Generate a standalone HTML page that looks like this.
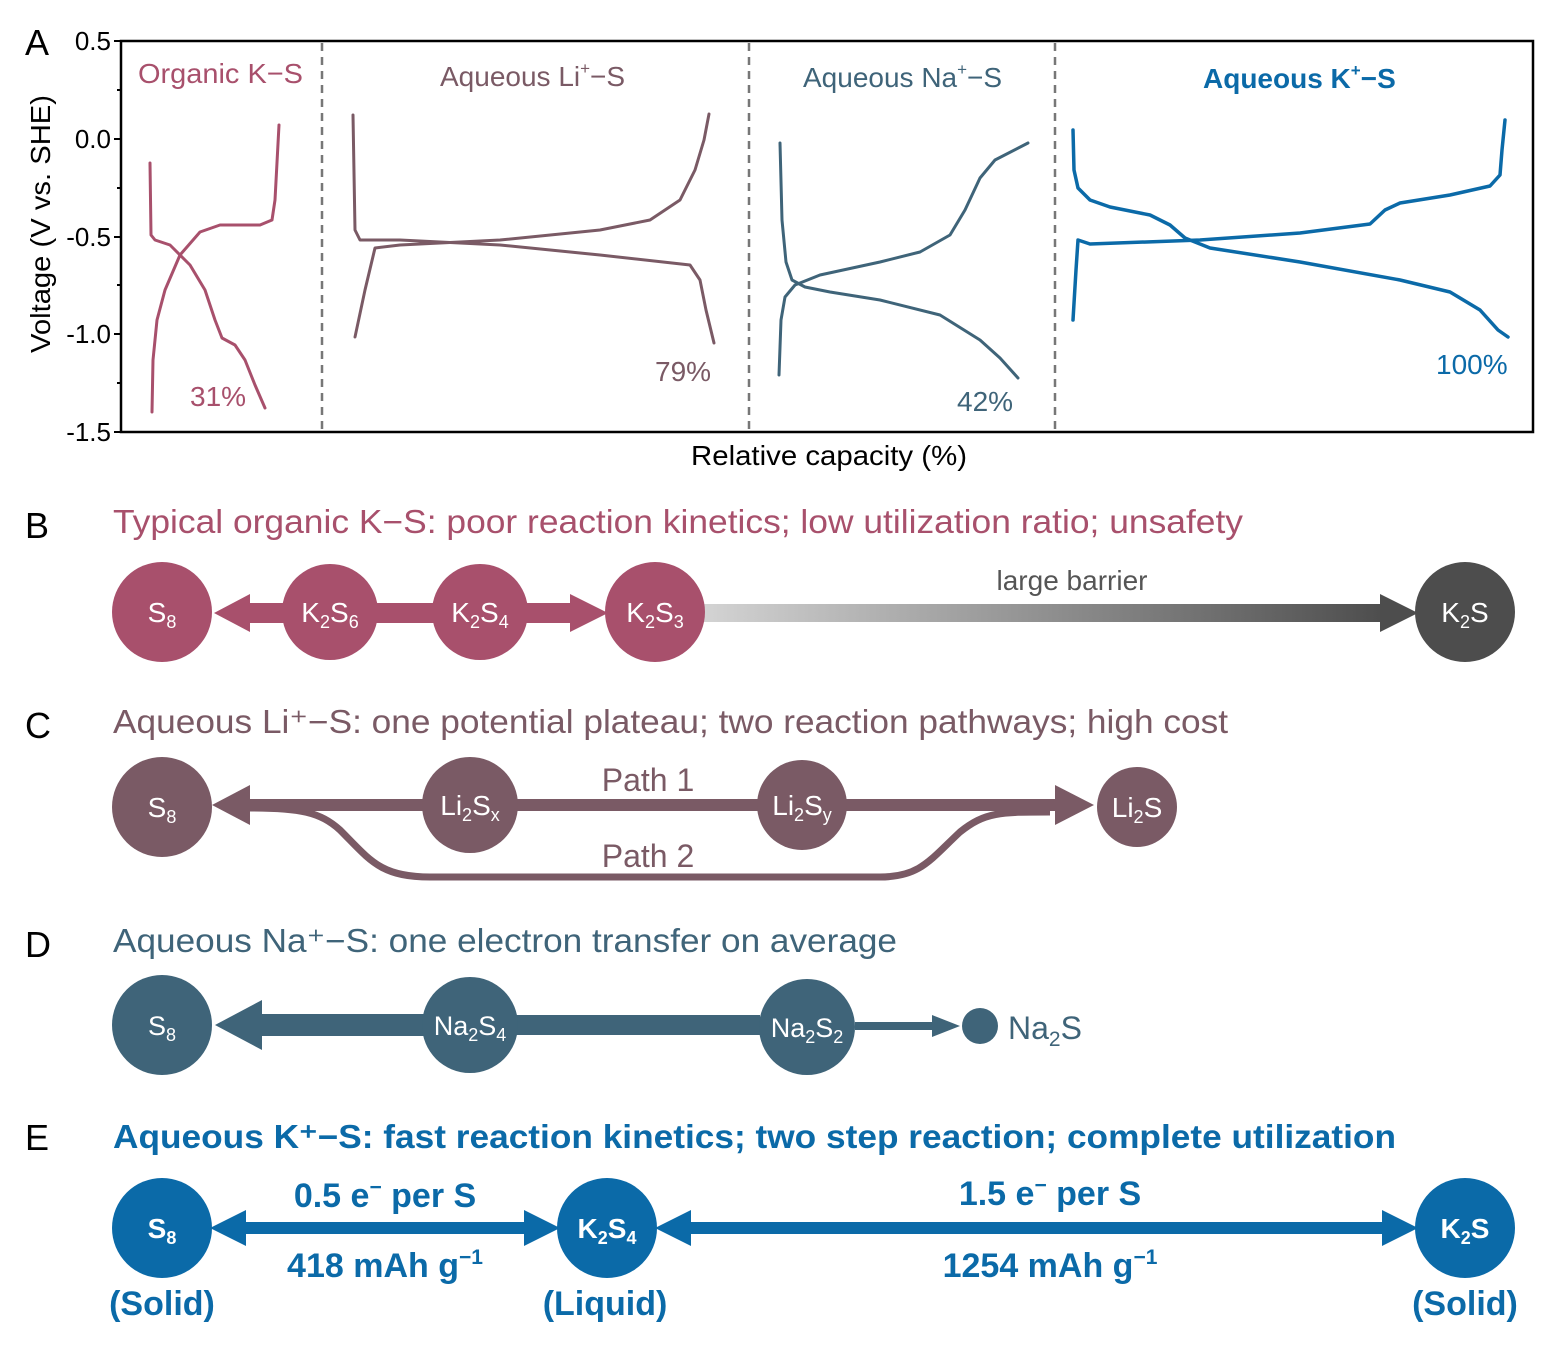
<!DOCTYPE html>
<html><head><meta charset="utf-8"><style>
html,body{margin:0;padding:0;background:#fff}
svg{display:block;font-family:"Liberation Sans",sans-serif}
</style></head><body>
<svg width="1541" height="1345" viewBox="0 0 1541 1345" xmlns="http://www.w3.org/2000/svg">
<defs>
<linearGradient id="gb" x1="0" x2="1" y1="0" y2="0"><stop offset="0" stop-color="#d4d4d4"/><stop offset="1" stop-color="#4d4d4d"/></linearGradient>
</defs>
<!-- Panel A -->
<text x="25" y="55" font-size="36">A</text>
<rect x="121" y="41" width="1412" height="391" fill="none" stroke="#000" stroke-width="2.5"/>
<g stroke="#000" stroke-width="2">
<line x1="114" y1="41" x2="121" y2="41"/><line x1="114" y1="139" x2="121" y2="139"/><line x1="114" y1="237" x2="121" y2="237"/><line x1="114" y1="334" x2="121" y2="334"/><line x1="114" y1="432" x2="121" y2="432"/>
<line x1="117" y1="90" x2="121" y2="90"/><line x1="117" y1="188" x2="121" y2="188"/><line x1="117" y1="285" x2="121" y2="285"/><line x1="117" y1="383" x2="121" y2="383"/>
</g>
<g font-size="26" text-anchor="end">
<text x="111" y="50">0.5</text><text x="111" y="148">0.0</text><text x="111" y="246">-0.5</text><text x="111" y="343">-1.0</text><text x="111" y="441">-1.5</text>
</g>
<text transform="translate(50,224) rotate(-90)" font-size="28" text-anchor="middle" textLength="258" lengthAdjust="spacingAndGlyphs">Voltage (V vs. SHE)</text>
<text x="829" y="465" font-size="28" text-anchor="middle" textLength="276" lengthAdjust="spacingAndGlyphs">Relative capacity (%)</text>
<g stroke="#777" stroke-width="2.5" stroke-dasharray="8,6">
<line x1="322" y1="43" x2="322" y2="430"/><line x1="749" y1="43" x2="749" y2="430"/><line x1="1055" y1="43" x2="1055" y2="430"/>
</g>
<g font-size="28">
<text x="138" y="83" fill="#a8506c" textLength="165" lengthAdjust="spacingAndGlyphs">Organic K−S</text>
<text x="440" y="86" fill="#7a5a65">Aqueous Li<tspan font-size="17" dy="-12">+</tspan><tspan dy="12">−S</tspan></text>
<text x="803" y="87" fill="#3f6479">Aqueous Na<tspan font-size="17" dy="-12">+</tspan><tspan dy="12">−S</tspan></text>
<text x="1203" y="88" fill="#0b6aa8" font-weight="bold">Aqueous K<tspan font-size="17" dy="-12">+</tspan><tspan dy="12">−S</tspan></text>
<text x="190" y="406" fill="#a8506c">31%</text>
<text x="655" y="381" fill="#7a5a65">79%</text>
<text x="957" y="411" fill="#3f6479">42%</text>
<text x="1436" y="374" fill="#0b6aa8">100%</text>
</g>
<g fill="none" stroke-width="3" stroke-linejoin="round" stroke-linecap="round">
<polyline stroke="#a8506c" points="152,412 153,360 157,320 165,290 180,255 200,232 220,225 260,225 272,220 275,200 279,125"/>
<polyline stroke="#a8506c" points="150,163 151,235 155,240 170,245 190,265 205,290 215,320 222,338 235,345 245,360 255,385 265,408"/>
<polyline stroke="#7a5a65" points="353,115 355,230 360,240 400,240 500,245 600,255 690,265 700,280 706,310 714,343"/>
<polyline stroke="#7a5a65" points="355,337 365,290 375,248 400,245 500,240 600,230 650,220 680,200 695,170 704,140 709,114"/>
<polyline stroke="#3f6479" points="780,143 782,220 786,262 792,280 805,287 830,292 880,300 940,315 980,340 1000,358 1018,378"/>
<polyline stroke="#3f6479" points="779,375 781,320 785,297 795,285 820,275 880,262 920,252 950,235 965,210 980,178 995,160 1028,143"/>
<polyline stroke="#0b6aa8" stroke-width="3.5" points="1073,130 1074,170 1078,188 1090,200 1110,207 1150,215 1170,225 1185,238 1210,248 1300,262 1400,280 1450,292 1480,310 1498,330 1508,337"/>
<polyline stroke="#0b6aa8" stroke-width="3.5" points="1073,320 1076,270 1078,240 1090,244 1200,240 1300,233 1370,224 1385,210 1400,203 1450,195 1490,186 1500,175 1502,150 1505,120"/>
</g>
<!-- Panel B -->
<text x="25" y="538" font-size="36">B</text>
<text x="113" y="533" font-size="33" fill="#a8506c" textLength="1130" lengthAdjust="spacingAndGlyphs">Typical organic K−S: poor reaction kinetics; low utilization ratio; unsafety</text>
<g fill="#a8506c">
<rect x="240" y="603" width="50" height="20"/><polygon points="214,613 250,594 250,632"/>
<rect x="370" y="603" width="70" height="20"/>
<rect x="520" y="603" width="50" height="20"/><polygon points="608,613 570,594 570,632"/>
</g>
<rect x="700" y="604" width="685" height="18" fill="url(#gb)"/><polygon points="1418,613 1380,594 1380,632" fill="#4d4d4d"/>
<text x="1072" y="590" font-size="28" fill="#555" text-anchor="middle">large barrier</text>
<g fill="#a8506c"><circle cx="162" cy="612" r="50"/><circle cx="330" cy="612" r="48"/><circle cx="480" cy="612" r="48"/><circle cx="655" cy="612" r="50"/></g>
<circle cx="1465" cy="612" r="50" fill="#4d4d4d"/>
<g fill="#fff" font-size="28" text-anchor="middle">
<text x="162" y="622">S<tspan font-size="18" dy="6">8</tspan></text>
<text x="330" y="622">K<tspan font-size="18" dy="6">2</tspan><tspan dy="-6">S</tspan><tspan font-size="18" dy="6">6</tspan></text>
<text x="480" y="622">K<tspan font-size="18" dy="6">2</tspan><tspan dy="-6">S</tspan><tspan font-size="18" dy="6">4</tspan></text>
<text x="655" y="622">K<tspan font-size="18" dy="6">2</tspan><tspan dy="-6">S</tspan><tspan font-size="18" dy="6">3</tspan></text>
<text x="1465" y="622">K<tspan font-size="18" dy="6">2</tspan><tspan dy="-6">S</tspan></text>
</g>
<!-- Panel C -->
<text x="25" y="738" font-size="36">C</text>
<text x="113" y="733" font-size="33" fill="#7a5a65" textLength="1115" lengthAdjust="spacingAndGlyphs">Aqueous Li⁺−S: one potential plateau; two reaction pathways; high cost</text>
<path d="M250,808 C300,808 320,812 340,830 C370,860 380,877 430,877 L880,877 C920,877 930,860 960,832 C985,812 1000,812 1050,812" fill="none" stroke="#7a5a65" stroke-width="7"/>
<g fill="#7a5a65">
<rect x="245" y="799" width="815" height="12"/>
<polygon points="212,805 250,785 250,825"/><polygon points="1094,805 1055,785 1055,825"/>
<circle cx="162" cy="807" r="50"/><circle cx="470" cy="805" r="48"/><circle cx="802" cy="805" r="45"/><circle cx="1137" cy="807" r="40"/>
</g>
<text x="648" y="791" font-size="32" fill="#7a5a65" text-anchor="middle">Path 1</text>
<text x="648" y="867" font-size="32" fill="#7a5a65" text-anchor="middle">Path 2</text>
<g fill="#fff" font-size="28" text-anchor="middle">
<text x="162" y="817">S<tspan font-size="18" dy="6">8</tspan></text>
<text x="470" y="815">Li<tspan font-size="18" dy="6">2</tspan><tspan dy="-6">S</tspan><tspan font-size="18" dy="6">x</tspan></text>
<text x="802" y="815">Li<tspan font-size="18" dy="6">2</tspan><tspan dy="-6">S</tspan><tspan font-size="18" dy="6">y</tspan></text>
<text x="1137" y="817">Li<tspan font-size="18" dy="6">2</tspan><tspan dy="-6">S</tspan></text>
</g>
<!-- Panel D -->
<text x="25" y="957" font-size="36">D</text>
<text x="113" y="952" font-size="33" fill="#3f6479" textLength="784" lengthAdjust="spacingAndGlyphs">Aqueous Na⁺−S: one electron transfer on average</text>
<g fill="#3f6479">
<rect x="255" y="1014" width="170" height="22"/><polygon points="215,1025 262,1000 262,1050"/>
<rect x="515" y="1015" width="245" height="20"/>
<rect x="855" y="1022" width="80" height="8"/><polygon points="960,1026 932,1015 932,1037"/>
<circle cx="162" cy="1025" r="50"/><circle cx="470" cy="1025" r="48"/><circle cx="807" cy="1027" r="48"/><circle cx="980" cy="1026" r="18"/>
</g>
<text x="1008" y="1039" font-size="32" fill="#3f6479">Na<tspan font-size="21" dy="7">2</tspan><tspan dy="-7">S</tspan></text>
<g fill="#fff" font-size="27" text-anchor="middle">
<text x="162" y="1035">S<tspan font-size="18" dy="6">8</tspan></text>
<text x="470" y="1035">Na<tspan font-size="18" dy="6">2</tspan><tspan dy="-6">S</tspan><tspan font-size="18" dy="6">4</tspan></text>
<text x="807" y="1037">Na<tspan font-size="18" dy="6">2</tspan><tspan dy="-6">S</tspan><tspan font-size="18" dy="6">2</tspan></text>
</g>
<!-- Panel E -->
<text x="25" y="1150" font-size="36">E</text>
<text x="113" y="1148" font-size="33" font-weight="bold" fill="#0b6aa8" textLength="1283" lengthAdjust="spacingAndGlyphs">Aqueous K⁺−S: fast reaction kinetics; two step reaction; complete utilization</text>
<g fill="#0b6aa8">
<rect x="240" y="1222" width="290" height="12"/><polygon points="210,1228 246,1210 246,1246"/><polygon points="560,1228 524,1210 524,1246"/>
<rect x="685" y="1222" width="700" height="12"/><polygon points="655,1228 691,1210 691,1246"/><polygon points="1418,1228 1382,1210 1382,1246"/>
<circle cx="162" cy="1228" r="50"/><circle cx="607" cy="1228" r="50"/><circle cx="1465" cy="1228" r="50"/>
</g>
<g fill="#fff" font-size="28" font-weight="bold" text-anchor="middle">
<text x="162" y="1238">S<tspan font-size="18" dy="6">8</tspan></text>
<text x="607" y="1238">K<tspan font-size="18" dy="6">2</tspan><tspan dy="-6">S</tspan><tspan font-size="18" dy="6">4</tspan></text>
<text x="1465" y="1238">K<tspan font-size="18" dy="6">2</tspan><tspan dy="-6">S</tspan></text>
</g>
<g fill="#0b6aa8" font-size="34" font-weight="bold" text-anchor="middle">
<text x="385" y="1207">0.5 e<tspan font-size="21" dy="-13">−</tspan><tspan dy="13"> per S</tspan></text>
<text x="385" y="1277">418 mAh g<tspan font-size="21" dy="-13">−1</tspan></text>
<text x="1050" y="1205">1.5 e<tspan font-size="21" dy="-13">−</tspan><tspan dy="13"> per S</tspan></text>
<text x="1050" y="1277">1254 mAh g<tspan font-size="21" dy="-13">−1</tspan></text>
<text x="162" y="1315">(Solid)</text>
<text x="605" y="1315">(Liquid)</text>
<text x="1465" y="1315">(Solid)</text>
</g>
</svg>
</body></html>
